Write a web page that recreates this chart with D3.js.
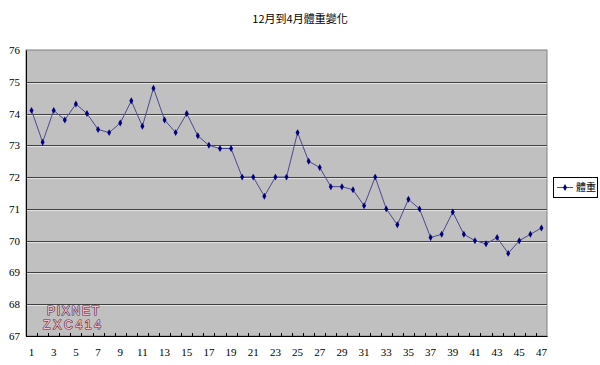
<!DOCTYPE html>
<html>
  <head>
    <meta charset="UTF-8">
    <title>12月到4月體重變化</title>
    <script src="https://cdn.jsdelivr.net/npm/d3@7/dist/d3.min.js"></script>
    <style>
      body { margin: 0; background: #fff; }
      text { fill: #000; }
    </style>
  </head>
  <body>
    <script>
      // data
      var days = d3.range(1, 48);
      var weight = [74.1, 73.1, 74.1, 73.8, 74.3, 74.0, 73.5, 73.4, 73.7, 74.4,
                    73.6, 74.8, 73.8, 73.4, 74.0, 73.3, 73.0, 72.9, 72.9, 72.0,
                    72.0, 71.4, 72.0, 72.0, 73.4, 72.5, 72.3, 71.7, 71.7, 71.6,
                    71.1, 72.0, 71.0, 70.5, 71.3, 71.0, 70.1, 70.2, 70.9, 70.2,
                    70.0, 69.9, 70.1, 69.6, 70.0, 70.2, 70.4];
      var yTicks = [67, 68, 69, 70, 71, 72, 73, 74, 75, 76];
      var title = "12月到4月體重變化";
      var seriesName = "體重";

      var svg = d3.select("body").append("svg")
        .attr("width", 600)
        .attr("height", 365);

      var plotL = 26, plotR = 547, plotT = 50, plotB = 336;

      var x = d3.scaleBand().domain(days).range([plotL, plotR]);
      var y = d3.scaleLinear().domain([67, 76]).range([plotB, plotT]);

      // title
      svg.append("text")
        .attr("x", 300).attr("y", 23)
        .attr("text-anchor", "middle")
        .style("font-family", "'Noto Sans CJK TC', sans-serif")
        .style("font-size", "11px")
        .text(title);

      // plot background
      svg.append("rect")
        .attr("x", plotL).attr("y", plotT)
        .attr("width", plotR - plotL).attr("height", plotB - plotT)
        .style("fill", "#c0c0c0")
        .style("stroke", "#808080");

      // grid lines (dark line with light shadow)
      yTicks.slice(1, -1).forEach(function (t) {
        svg.append("line")
          .attr("x1", plotL).attr("x2", plotR)
          .attr("y1", Math.round(y(t)) + 1.5).attr("y2", Math.round(y(t)) + 1.5)
          .style("stroke", "#e4e4e4").style("stroke-width", 1);
        svg.append("line")
          .attr("x1", plotL).attr("x2", plotR)
          .attr("y1", Math.round(y(t)) + 0.5).attr("y2", Math.round(y(t)) + 0.5)
          .style("stroke", "#404040").style("stroke-width", 1);
      });

      // y axis
      var yAxis = svg.append("g")
        .attr("transform", "translate(" + plotL + ",0)")
        .call(d3.axisLeft(y).tickValues(yTicks).tickSize(0).tickPadding(6));
      yAxis.select(".domain").style("stroke", "#000");
      yAxis.selectAll("text")
        .style("font-size", "11px")
        .style("font-family", "'Liberation Serif', serif");

      // x axis
      var xAxis = svg.append("g")
        .attr("transform", "translate(0," + plotB + ")")
        .call(d3.axisBottom(x)
          .tickValues(days.filter(function (d) { return d % 2 === 1; }))
          .tickSize(0).tickPadding(12));
      xAxis.select(".domain").style("stroke", "#000");
      xAxis.selectAll("text")
        .style("font-size", "11px")
        .style("font-family", "'Liberation Serif', serif");

      // category boundary tick marks
      svg.append("g").selectAll("line")
        .data(days)
        .enter().append("line")
        .attr("x1", function (d) { return Math.round(x(d)) + 0.5; })
        .attr("x2", function (d) { return Math.round(x(d)) + 0.5; })
        .attr("y1", plotB - 3).attr("y2", plotB + 1)
        .style("stroke", "#000");

      // line
      var line = d3.line()
        .x(function (d, i) { return x(days[i]) + x.bandwidth() / 2; })
        .y(function (d) { return y(d); });

      svg.append("path")
        .datum(weight)
        .attr("d", line)
        .style("fill", "none")
        .style("stroke", "#4a4a90")
        .style("stroke-width", 1);

      svg.append("g").selectAll("path")
        .data(weight)
        .enter().append("path")
        .attr("transform", function (d, i) {
          return "translate(" + (x(days[i]) + x.bandwidth() / 2) + "," + y(d) + ")";
        })
        .attr("d", d3.symbol(d3.symbolDiamond, 14))
        .style("fill", "#000080");

      // watermark
      var wm = svg.append("g");
      [["PIXNET", 47, 315, 52], ["ZXC414", 43, 329, 58]].forEach(function (w) {
        wm.append("text")
          .attr("x", w[1]).attr("y", w[2])
          .attr("textLength", w[3])
          .style("font-family", "'Liberation Sans', sans-serif")
          .style("font-size", "12px")
          .style("fill", "#f4c4d4")
          .style("stroke", "#5a2a3a")
          .style("stroke-width", 1.2)
          .style("paint-order", "stroke")
          .text(w[0]);
      });

      // legend
      var lg = svg.append("g");
      lg.append("rect")
        .attr("x", 553.5).attr("y", 177.5)
        .attr("width", 44).attr("height", 20)
        .style("fill", "#fff")
        .style("stroke", "#000");
      lg.append("line")
        .attr("x1", 557).attr("x2", 573)
        .attr("y1", 187.5).attr("y2", 187.5)
        .style("stroke", "#4a4a90");
      lg.append("path")
        .attr("transform", "translate(565,187.5)")
        .attr("d", d3.symbol(d3.symbolDiamond, 14))
        .style("fill", "#000080");
      lg.append("text")
        .attr("x", 576).attr("y", 191)
        .style("font-family", "'Noto Sans CJK TC', sans-serif")
        .style("font-size", "10px")
        .text(seriesName);
    </script>
  </body>
</html>
